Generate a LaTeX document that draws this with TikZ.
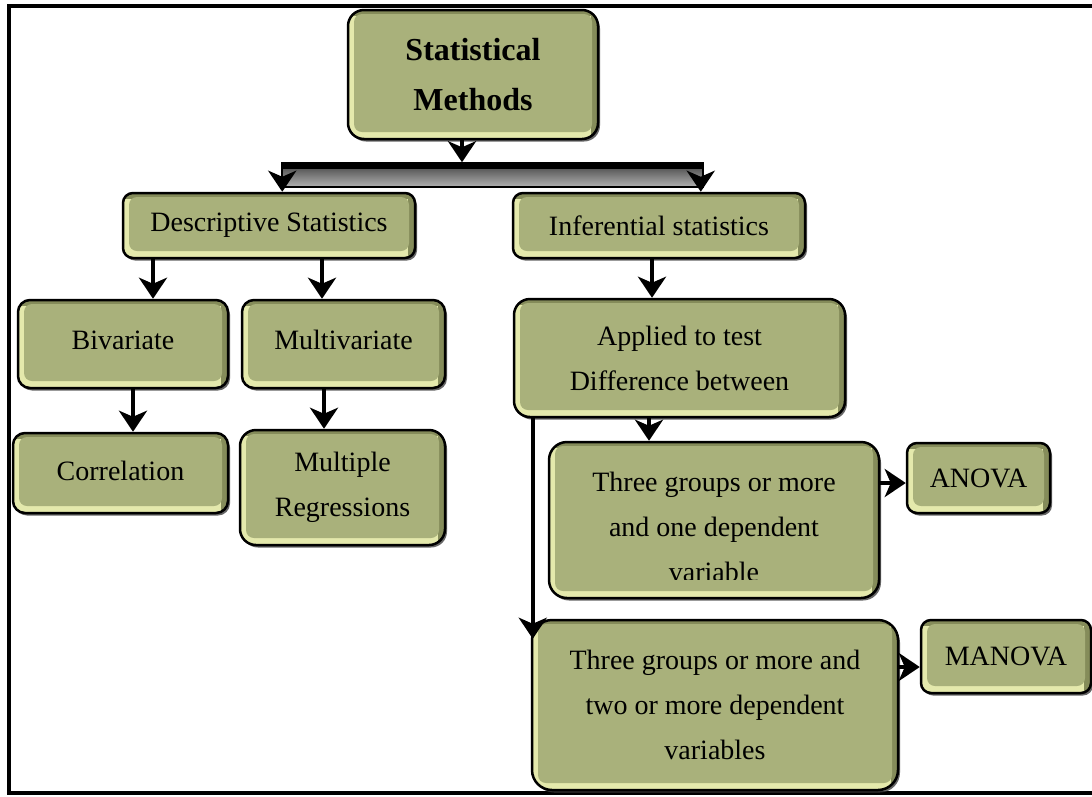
\documentclass[tikz,border=0pt]{standalone}
\usepackage{fontspec}
\setmainfont{Liberation Serif}
\usetikzlibrary{arrows.meta,shadows}
\definecolor{boxlight}{HTML}{E4E9AC}
\definecolor{boxmid}{HTML}{A9B17B}
\definecolor{boxdark}{HTML}{858C5A}
\newcommand\mybody{\fontsize{28}{45}\selectfont}
\newcommand\mytitle{\bfseries\fontsize{32}{50}\selectfont}
\begin{document}
\begin{tikzpicture}[x=1pt,y=-1pt,
  box/.style={draw=black, line width=2.5pt, rounded corners=#1, fill=boxlight,
    inner sep=0pt, align=center, font=\mybody,
    drop shadow={shadow xshift=2pt, shadow yshift=-2.5pt, fill=black!75, opacity=0.8},
    path picture={
      \fill[boxdark, sharp corners] ([yshift=-6pt]path picture bounding box.north west) rectangle (path picture bounding box.north east);
      \fill[boxdark, sharp corners] ([xshift=-7pt]path picture bounding box.south east) rectangle (path picture bounding box.north east);
      \fill[boxmid, rounded corners=8pt] ([shift={(6pt,7pt)}]path picture bounding box.south west) rectangle ([shift={(-6pt,-4pt)}]path picture bounding box.north east);
    }},
  box/.default=14pt,
  txt/.style={align=center, font=\mybody, inner sep=0pt},
  barshape/.style={minimum width=421pt, minimum height=24pt, inner sep=0pt,
    top color=black!75, bottom color=black!30, draw=black, line width=1.5pt,
    path picture={\fill[black] (path picture bounding box.north west) rectangle ([yshift=-6pt]path picture bounding box.north east);}},
  arr/.style={line width=4.5pt, -{Stealth[length=21pt,width=28pt,inset=6pt]}},
  frame/.style={line width=4pt}
]
\useasboundingbox (0,0) rectangle (1092,796);
\fill[white] (0,0) rectangle (1092,796);
\draw[frame] (1092,6) -- (9,6) -- (9,793) -- (1092,793);

% nodes
\node[box=16pt, minimum width=250pt, minimum height=129pt, font=\mytitle] (sm) at (473,74.5) {Statistical\\Methods};
\node[barshape] (bar) at (492.5,175) {};
\node[box=10pt, minimum width=292pt, minimum height=65pt] (desc) at (269,225.5) {\raisebox{-2pt}{Descriptive Statistics}};
\node[box=10pt, minimum width=292pt, minimum height=65pt] (inf) at (659,225.5) {Inferential statistics};
\node[box=12pt, minimum width=210pt, minimum height=88pt] (biv) at (123,344) {\raisebox{8pt}{Bivariate}};
\node[box=12pt, minimum width=203pt, minimum height=88pt] (mult) at (343.5,344) {\raisebox{8pt}{Multivariate}};
\node[box=12pt, minimum width=215pt, minimum height=80pt] (corr) at (120.5,473) {\raisebox{5pt}{Correlation}};
\node[box=16pt, minimum width=205pt, minimum height=115pt] (mreg) at (342.5,487.5) {Multiple\\Regressions};
\node[box=16pt, minimum width=331pt, minimum height=118pt] (appl) at (679.5,358) {Applied to test\\Difference between};
\node[box=18pt, minimum width=330pt, minimum height=156pt] (tg1) at (714,520) {};
\begin{scope}
  \clip (549,442) rectangle (879,579);
  \node[txt] (tg1t) at (714,527) {Three groups or more\\and one dependent\\variable};
\end{scope}
\node[box=10pt, minimum width=143pt, minimum height=70pt] (anova) at (978.5,478) {ANOVA};
\node[box=20pt, minimum width=366pt, minimum height=170pt] (tg2) at (715,705) {Three groups or more and\\two or more dependent\\variables};
\node[box=10pt, minimum width=170pt, minimum height=73pt] (manova) at (1006,656.5) {MANOVA};

% connectors
\draw[arr] ([xshift=-11pt]sm.south) -- ([xshift=-11pt]sm.south |- bar.north);
\draw[arr] ([xshift=1pt,yshift=3pt]bar.south west) -- ([xshift=1pt]bar.south west |- desc.north);
\draw[arr] ([xshift=-3pt,yshift=3pt]bar.south east) -- ([xshift=-3pt]bar.south east |- inf.north);
\draw[arr] ([xshift=-116pt]desc.south) -- ([xshift=30pt]biv.north);
\draw[arr] ([xshift=53pt]desc.south) -- ([xshift=-21.5pt]mult.north);
\draw[arr] ([xshift=10pt]biv.south) -- ([xshift=12.5pt]corr.north);
\draw[arr] ([xshift=-19.5pt]mult.south) -- ([xshift=-18.5pt]mreg.north);
\draw[arr] ([xshift=-7pt]inf.south) -- ([xshift=-27.5pt]appl.north);
\draw[arr] ([xshift=-30.5pt]appl.south) -- ([xshift=-65pt]tg1.north);
\draw[arr] ([yshift=37pt]tg1.east) -- ([yshift=37pt]tg1.east -| anova.west);
\draw[arr] ([yshift=38pt]tg2.east) -- ([yshift=38pt]tg2.east -| manova.west);
\draw[arr] ([xshift=20pt]appl.south west) -- ([xshift=2pt,yshift=-20pt]tg2.north west);
\end{tikzpicture}
\end{document}
